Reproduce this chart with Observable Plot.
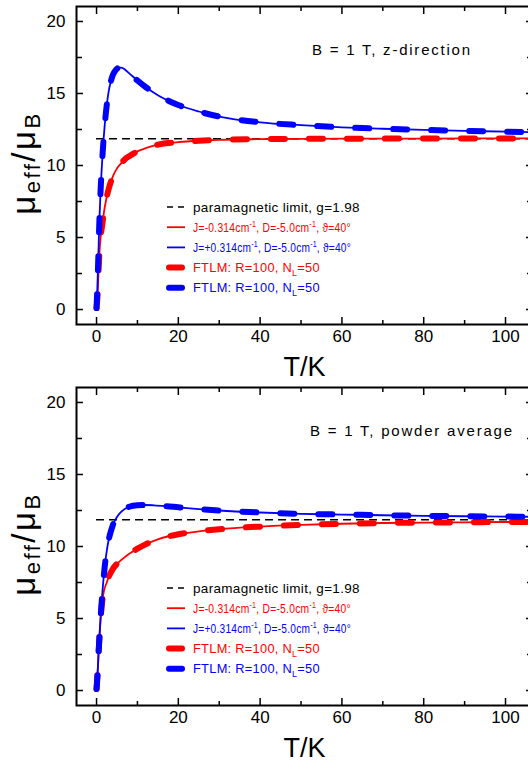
<!DOCTYPE html>
<html><head><meta charset="utf-8">
<script src="https://cdn.jsdelivr.net/npm/d3@7"></script>
<script src="https://cdn.jsdelivr.net/npm/@observablehq/plot@0.6"></script>
<style>
body{margin:0;background:#fff;}
#chart{width:528px;height:764px;overflow:hidden;}
#chart svg{display:block;}
</style></head><body><div id="chart"></div>
<script>
// ---- data ----
const paramagneticLimit = 11.85; // g = 1.98
const xMajor = [0, 20, 40, 60, 80, 100];
const xMinor = [10, 30, 50, 70, 90];
const yMajor = [0, 5, 10, 15, 20];
const yMinor = [2.5, 7.5, 12.5, 17.5];

// B = 1 T, z-direction
const T_zBlue  = [0, 0.1, 0.2, 0.4, 0.7, 1.0, 1.5, 2, 2.5, 3, 3.5, 4, 4.5, 5, 5.5, 6, 6.5, 7, 8, 10, 12, 15, 20, 25, 30, 40, 50, 60, 70, 80, 90, 100, 107];
const mu_zBlue = [0.1, 0.8, 1.5, 3.3, 6.2, 8.3, 10.9, 12.8, 14.2, 15.2, 15.85, 16.3, 16.55, 16.72, 16.8, 16.8, 16.75, 16.65, 16.4, 15.9, 15.45, 14.88, 14.2, 13.75, 13.4, 13.0, 12.8, 12.65, 12.55, 12.47, 12.4, 12.35, 12.3];
const T_zRed   = [0, 0.1, 0.2, 0.35, 0.5, 0.7, 1.0, 1.4, 2, 3, 4, 5, 6, 7, 8, 10, 12, 15, 20, 25, 30, 40, 50, 60, 80, 100, 107];
const mu_zRed  = [0.1, 0.4, 0.8, 1.6, 2.7, 3.9, 5.0, 5.9, 7.1, 8.4, 9.25, 9.8, 10.15, 10.45, 10.65, 10.98, 11.2, 11.45, 11.62, 11.72, 11.78, 11.83, 11.85, 11.86, 11.87, 11.88, 11.88];

// B = 1 T, powder average
const T_pBlue  = [0, 0.1, 0.33, 0.5, 0.8, 1.0, 1.4, 2, 2.5, 3, 3.5, 4, 5, 6, 7, 8, 10, 12, 14, 17, 20, 25, 30, 40, 50, 60, 70, 80, 90, 100, 107];
const mu_pBlue = [0.1, 0.5, 1.6, 2.6, 4.2, 5.1, 6.7, 8.6, 9.7, 10.5, 11.05, 11.5, 12.05, 12.4, 12.62, 12.76, 12.86, 12.88, 12.86, 12.8, 12.72, 12.6, 12.5, 12.36, 12.27, 12.22, 12.17, 12.13, 12.1, 12.08, 12.06];
const T_pRed   = [0, 0.1, 0.33, 0.5, 0.8, 1.0, 1.4, 1.8, 2.5, 3, 4, 5, 6, 8, 10, 12, 15, 20, 25, 30, 40, 50, 60, 70, 80, 90, 100, 107];
const mu_pRed  = [0.1, 0.5, 1.6, 2.6, 4.1, 5.0, 6.2, 6.9, 7.5, 7.9, 8.45, 8.8, 9.05, 9.5, 9.85, 10.15, 10.5, 10.85, 11.05, 11.2, 11.38, 11.5, 11.58, 11.63, 11.66, 11.68, 11.7, 11.7];

const panelNotes = ["B = 1 T, z-direction", "B = 1 T, powder average"];
const legendLabels = [
  [["paramagnetic limit, g=1.98"]],
  [["J=-0.314cm"], ["-1", "sup"], [", D=-5.0cm"], ["-1", "sup"], [", \u03d1=40\u00b0"]],
  [["J=+0.314cm"], ["-1", "sup"], [", D=-5.0cm"], ["-1", "sup"], [", \u03d1=40\u00b0"]],
  [["FTLM: R=100, N"], ["L", "sub"], ["=50"]],
  [["FTLM: R=100, N"], ["L", "sub"], ["=50"]]
];

const RED = "#ff0000", BLUE = "#0000ff";
const toRows = (T, mu) => T.map((t, i) => ({T: t, mu: mu[i]}));
const FONT = "'Liberation Sans', Arial, sans-serif";
const root = document.getElementById("chart");

function panel({red, blue, note, height, marginBottom, noteX, noteLen}) {
  const tmin = d3.min(red, d => d.T);
  const tmax = d3.max(red, d => d.T);
  const thin = {x: "T", y: "mu", strokeWidth: 1.8, curve: "monotone-x", clip: true};
  const thick = {x: "T", y: "mu", strokeWidth: 6, curve: "monotone-x", clip: true,
                 strokeDasharray: "14,24", strokeLinecap: "round"};
  const tk = {tickFormat: () => "", label: null, strokeWidth: 1.5};
  const svg = Plot.plot({
    width: 528, height, marginTop: 6, marginBottom, marginLeft: 76, marginRight: -4,
    x: {domain: [-4.9, 106.6]},
    y: {domain: [-1.04, 21.04]},
    style: {fontFamily: FONT, background: "white", color: "black", overflow: "hidden"},
    marks: [
      Plot.ruleY([paramagneticLimit], {x1: tmin, x2: tmax, stroke: "black", strokeWidth: 1.5, strokeDasharray: "8,5", clip: true}),
      Plot.line(red, {...thin, stroke: RED}),
      Plot.line(blue, {...thin, stroke: BLUE}),
      Plot.line(red, {...thick, stroke: RED}),
      Plot.line(blue, {...thick, stroke: BLUE}),
      Plot.frame({stroke: "black", strokeWidth: 2}),
      Plot.axisX(xMajor, {anchor: "bottom", tickSize: 0, tickPadding: 5, fontSize: 17, label: null, style: "letter-spacing:-0.6px"}),
      Plot.axisX(xMajor, {anchor: "bottom", tickSize: 7, dy: -7, ...tk}),
      Plot.axisX(xMinor, {anchor: "bottom", tickSize: 4, dy: -4, ...tk}),
      Plot.axisX(xMajor, {anchor: "top", tickSize: 7, dy: 7, ...tk}),
      Plot.axisX(xMinor, {anchor: "top", tickSize: 4, dy: 4, ...tk}),
      Plot.axisY(yMajor, {anchor: "left", tickSize: 0, tickPadding: 11, fontSize: 17, label: null, style: "letter-spacing:-0.6px"}),
      Plot.axisY(yMajor, {anchor: "left", tickSize: 7, dx: 7, ...tk}),
      Plot.axisY(yMinor, {anchor: "left", tickSize: 6, dx: 6, ...tk}),
      Plot.axisY(yMajor, {anchor: "right", tickSize: 7, dx: -7, ...tk}),
      Plot.axisY(yMinor, {anchor: "right", tickSize: 6, dx: -6, ...tk}),
      Plot.text(["T/K"], {frameAnchor: "bottom", dy: 43, fontSize: 27, fontFamily: FONT, lineAnchor: "middle", fill: "black"})
    ]
  });
  root.appendChild(svg);
  const s = d3.select(svg);
  // y-axis label with subscripts
  const yl = s.append("text")
    .attr("transform", "translate(35,163) rotate(-90)")
    .attr("text-anchor", "middle")
    .attr("font-family", FONT)
    .attr("fill", "black")
    .style("letter-spacing", "2.5px");
  yl.append("tspan").attr("font-size", 33).text("\u03bc");
  yl.append("tspan").attr("font-size", 22).attr("dy", 5).text("eff");
  yl.append("tspan").attr("font-size", 33).attr("dy", -5).text("/\u03bc");
  yl.append("tspan").attr("font-size", 22).attr("dy", 5).text("B");

  // annotation
  s.append("text").attr("x", noteX).attr("y", 55)
    .attr("text-anchor", "start")
    .attr("font-family", FONT).attr("font-size", 15).attr("fill", "black")
    .attr("textLength", noteLen).attr("lengthAdjust", "spacing")
    .text(note);

  // legend
  const colors = ["black", RED, BLUE, RED, BLUE];
  const kinds = ["dash", "thin", "thin", "thick", "thick"];
  const widths = [167, 158, 158, 127, 127];
  legendLabels.forEach((parts, i) => {
    const y = 207 + i * 20.2;
    const c = colors[i];
    if (kinds[i] === "dash") {
      s.append("line").attr("x1", 167).attr("x2", 185).attr("y1", y).attr("y2", y)
        .attr("stroke", c).attr("stroke-width", 1.5).attr("stroke-dasharray", "6,5");
    } else if (kinds[i] === "thin") {
      s.append("line").attr("x1", 167).attr("x2", 185).attr("y1", y).attr("y2", y)
        .attr("stroke", c).attr("stroke-width", 1.8);
    } else {
      s.append("line").attr("x1", 169).attr("x2", 182).attr("y1", y).attr("y2", y)
        .attr("stroke", c).attr("stroke-width", 6).attr("stroke-linecap", "round");
    }
    const t = s.append("text").attr("x", 0).attr("y", 0)
      .attr("text-anchor", "start")
      .attr("font-family", FONT).attr("font-size", 13).attr("fill", c)
      .style("letter-spacing", "0.3px");
    let shift = 0;
    parts.forEach(([str, kind]) => {
      const ts = t.append("tspan");
      const target = kind === "sup" ? -5 : kind === "sub" ? 4 : 0;
      ts.attr("dy", target - shift);
      shift = target;
      if (kind) ts.attr("font-size", 9);
      ts.text(str);
    });
    const len = t.node().getComputedTextLength() || widths[i];
    const k = Math.min(1.1, widths[i] / len);
    t.attr("transform", `translate(193,${y + 4.5}) scale(${k},1)`);
  });
  return svg;
}

panel({red: toRows(T_zRed, mu_zRed), blue: toRows(T_zBlue, mu_zBlue), note: panelNotes[0], height: 381, marginBottom: 57, noteX: 312, noteLen: 158});
panel({red: toRows(T_pRed, mu_pRed), blue: toRows(T_pBlue, mu_pBlue), note: panelNotes[1], height: 383, marginBottom: 59, noteX: 310, noteLen: 202});
</script>
</body></html>
